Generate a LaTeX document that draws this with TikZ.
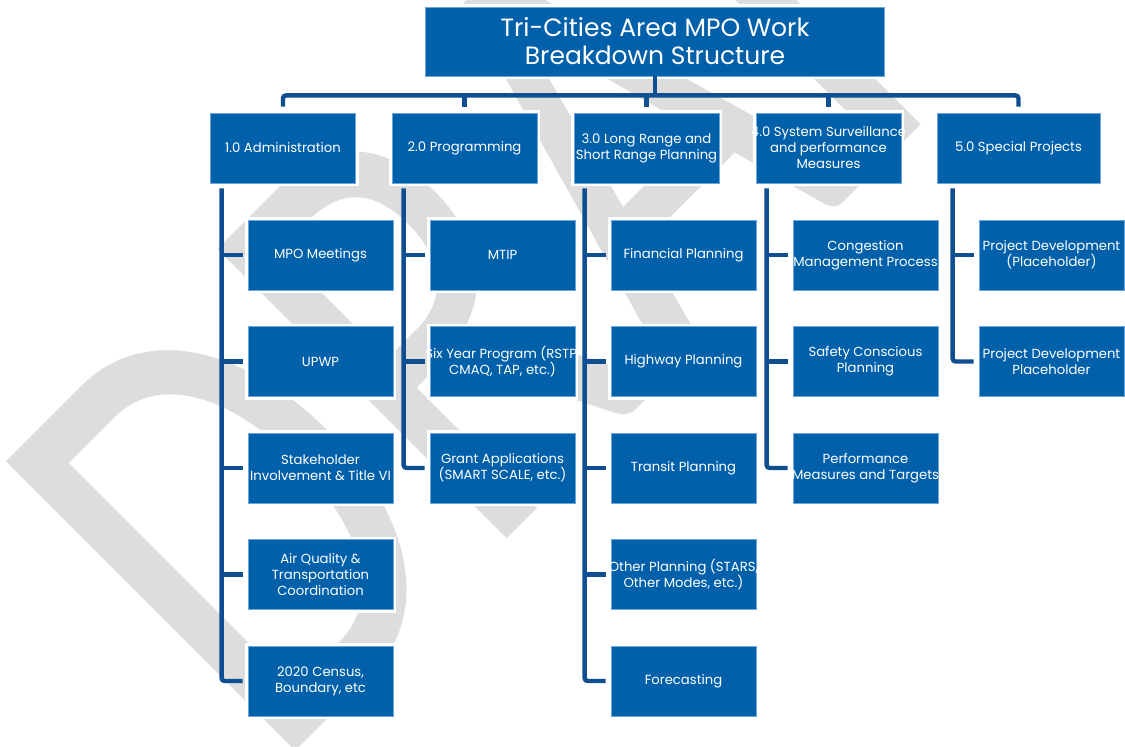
\documentclass[tikz,border=0pt]{standalone}
\usepackage{fontspec}
\setmainfont{Poppins}
\newfontfamily\wmfont{Carlito}
\usetikzlibrary{calc}

\definecolor{mpoblue}{RGB}{0,96,170}
\definecolor{linkblue}{RGB}{14,78,145}
\definecolor{edgeblue}{RGB}{110,165,220}
\definecolor{wmgray}{RGB}{221,221,221}

\tikzset{
  box/.style={fill=mpoblue, draw=edgeblue, line width=0.4pt, text=white,
    align=center, inner xsep=-10pt, inner ysep=1pt,
    minimum width=72.5pt, minimum height=35pt,
    font=\fontsize{6.6pt}{8pt}\selectfont,
    preaction={draw=white, line width=3pt}},
  link/.style={draw=linkblue, line width=2.2pt, rounded corners=1.5pt}
}

\begin{document}
\begin{tikzpicture}[x=0.5pt, y=-0.5pt]
    \useasboundingbox (0,0) rectangle (1125,746);

    % watermark
    \node[anchor=base west, inner sep=0pt, outer sep=0pt, text=wmgray,
      rotate=45, xscale=0.76, font=\wmfont\fontsize{319pt}{319pt}\selectfont]
      (watermark) at (272,774) {DRAFT};

    % title
    \node[box, minimum width=229.5pt, minimum height=34.5pt,
      font=\fontsize{12.5pt}{14pt}\selectfont] (title) at (655,41.5)
      {Tri-Cities Area MPO Work\\Breakdown Structure};

    % first level
    \node[box] (a1) at (283,148)   {1.0 Administration};
    \node[box] (a2) at (464.5,148) {2.0 Programming};
    \node[box] (a3) at (646.5,148) {3.0 Long Range and\\Short Range Planning};
    \node[box] (a4) at (828.5,148) {4.0 System Surveillance\\and performance\\Measures};
    \node[box, minimum width=81.5pt] (a5) at (1018.5,148) {5.0 Special Projects};

    % 1.0 Administration
    \node[box] (b11) at (320.5,255)   {MPO Meetings};
    \node[box] (b12) at (320.5,361.5) {UPWP};
    \node[box] (b13) at (320.5,468)   {Stakeholder\\Involvement \& Title VI};
    \node[box] (b14) at (320.5,574.5) {Air Quality \&\\Transportation\\Coordination};
    \node[box] (b15) at (320.5,681)   {2020 Census,\\Boundary, etc};

    % 2.0 Programming
    \node[box] (b21) at (502.5,255)   {MTIP};
    \node[box] (b22) at (502.5,361.5) {Six Year Program (RSTP,\\CMAQ, TAP, etc.)};
    \node[box] (b23) at (502.5,468)   {Grant Applications\\(SMART SCALE, etc.)};

    % 3.0 Planning
    \node[box] (b31) at (683.5,255)   {Financial Planning};
    \node[box] (b32) at (683.5,361.5) {Highway Planning};
    \node[box] (b33) at (683.5,468)   {Transit Planning};
    \node[box] (b34) at (683.5,574.5) {Other Planning (STARS,\\Other Modes, etc.)};
    \node[box] (b35) at (683.5,681)   {Forecasting};

    % 4.0 Surveillance
    \node[box] (b41) at (865.5,255)   {Congestion\\Management Process};
    \node[box] (b42) at (865.5,361.5) {Safety Conscious\\Planning};
    \node[box] (b43) at (865.5,468)   {Performance\\Measures and Targets};

    % 5.0 Special Projects
    \node[box] (b51) at (1051.5,255)   {Project Development\\(Placeholder)};
    \node[box] (b52) at (1051.5,361.5) {Project Development\\Placeholder};

    % title to first level
    \draw[link] (title.south) -- ($(title.south)+(0,19)$);
    \draw[link] ($(a1.north)+(0,-6)$) |- ($(title.south)+(0,19)$) -| ($(a5.north)+(0,-6)$);
    \foreach \n in {a2,a3,a4}
        \draw[link] ($(\n.north)+(0,-6)$) -- ($(\n.north)+(0,-19)$);

    % spines down each column
    \draw[link] ($(b11.west |- a1.south)+(-26,5)$) |- ($(b15.west)+(-5,0)$);
    \draw[link] ($(b21.west |- a2.south)+(-26,5)$) |- ($(b23.west)+(-5,0)$);
    \draw[link] ($(b31.west |- a3.south)+(-26,5)$) |- ($(b35.west)+(-5,0)$);
    \draw[link] ($(b41.west |- a4.south)+(-26,5)$) |- ($(b43.west)+(-5,0)$);
    \draw[link] ($(b51.west |- a5.south)+(-26,5)$) |- ($(b52.west)+(-5,0)$);

    % ticks to the children
    \foreach \c in {b11,b12,b13,b14,b21,b22,b31,b32,b33,b34,b41,b42,b51}
        \draw[link] ($(\c.west)+(-26,0)$) -- ($(\c.west)+(-5,0)$);

\end{tikzpicture}
\end{document}
